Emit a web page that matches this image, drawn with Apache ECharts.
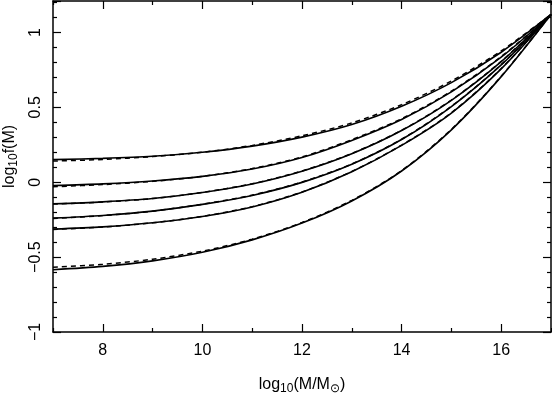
<!DOCTYPE html>
<html>
<head>
<meta charset="utf-8">
<script src="https://cdn.jsdelivr.net/npm/echarts@6/dist/echarts.min.js"></script>
<style>
  html, body { margin: 0; padding: 0; background: #fff; }
  #chart { width: 552px; height: 398px; }
</style>
</head>
<body>
<div id="chart"></div>
<script>
// log10(M/Msun) sample points
var logM = [7, 8, 9, 10, 11, 12, 13, 14, 15, 16, 17];

// solid curves, top to bottom
var solid1 = [0.151, 0.159, 0.173, 0.200, 0.241, 0.301, 0.385, 0.507, 0.665, 0.868, 1.120];
var solid2 = [-0.022, -0.011, 0.008, 0.039, 0.088, 0.165, 0.279, 0.419, 0.603, 0.835, 1.120];
var solid3 = [-0.144, -0.131, -0.109, -0.069, -0.012, 0.073, 0.190, 0.345, 0.547, 0.805, 1.120];
var solid4 = [-0.240, -0.222, -0.193, -0.148, -0.088, -0.001, 0.120, 0.285, 0.505, 0.783, 1.120];
var solid5 = [-0.313, -0.298, -0.271, -0.229, -0.165, -0.067, 0.070, 0.246, 0.462, 0.757, 1.120];
var solid6 = [-0.584, -0.562, -0.525, -0.468, -0.385, -0.273, -0.125, 0.075, 0.350, 0.705, 1.120];

// dashed curves (fits)
var dash1 = [0.141, 0.152, 0.171, 0.200, 0.246, 0.310, 0.396, 0.518, 0.676, 0.877, 1.120];
var dash2 = [-0.030, -0.016, 0.006, 0.039, 0.091, 0.169, 0.284, 0.424, 0.608, 0.839, 1.120];
var dash3 = [-0.146, -0.132, -0.109, -0.068, -0.010, 0.075, 0.192, 0.347, 0.549, 0.807, 1.120];
var dash4 = [-0.242, -0.223, -0.193, -0.147, -0.086, 0.001, 0.122, 0.287, 0.507, 0.785, 1.120];
var dash5 = [-0.315, -0.299, -0.271, -0.228, -0.163, -0.065, 0.072, 0.248, 0.464, 0.759, 1.120];
var dash6 = [-0.567, -0.548, -0.514, -0.460, -0.380, -0.269, -0.121, 0.078, 0.353, 0.707, 1.120];

var xMajor = [8, 10, 12, 14, 16];
var xMinor = [7, 9, 11, 13, 15, 17];
var yTicks = [-1, -0.5, 0, 0.5, 1];

function pairs(ys) {
  return logM.map(function (x, i) { return [x, ys[i]]; });
}

var font = "'Liberation Sans', Arial, sans-serif";
var chart = echarts.init(document.getElementById('chart'));

function line(data, dashed) {
  return {
    type: 'line',
    data: pairs(data),
    smooth: 0.3,
    symbol: 'none',
    silent: true,
    z: dashed ? 3 : 4,
    lineStyle: {
      color: '#000',
      width: dashed ? 1.5 : 1.6,
      type: dashed ? [5, 4] : 'solid'
    }
  };
}

var tickStyle = { color: '#000', width: 1.2 };

// x axis: the major ticks sit on even numbers, so they are set by hand
function xAxisAt(pos, ticks, len, withLine, labels) {
  return {
    type: 'value', min: 7, max: 17, interval: 1, position: pos,
    axisLine: { show: withLine, onZero: false, lineStyle: { color: '#000', width: 1.5 } },
    axisTick: { show: true, inside: true, length: len, customValues: ticks, lineStyle: tickStyle },
    axisLabel: labels ? {
      show: true, margin: 11, color: '#000', fontFamily: font, fontSize: 16,
      customValues: xMajor
    } : { show: false },
    splitLine: { show: false }
  };
}

var baseY = {
  type: 'value', min: -1, max: 1.21, interval: 0.5,
  axisLine: { show: true, onZero: false, lineStyle: { color: '#000', width: 1.5 } },
  axisTick: { show: true, inside: true, length: 8, lineStyle: tickStyle },
  minorTick: { show: true, splitNumber: 5, length: 4, lineStyle: tickStyle },
  splitLine: { show: false }
};

var bottomX = xAxisAt('bottom', xMajor, 8, true, true);
bottomX.name = '{a|log}{s|10}{a|(M/M}{s|\u2299}{a|)}';
bottomX.nameLocation = 'middle';
bottomX.nameGap = 42;
bottomX.nameTextStyle = {
  rich: {
    a: { fontFamily: font, fontSize: 16, color: '#000' },
    s: { fontFamily: font, fontSize: 12, color: '#000', verticalAlign: 'bottom', padding: [9, 0, 0, 0] }
  }
};

chart.setOption({
  animation: false,
  backgroundColor: '#fff',
  grid: { left: 53, right: 1, top: 1, bottom: 66, outerBoundsMode: 'none' },
  xAxis: [
    bottomX,
    xAxisAt('bottom', xMinor, 4, false, false),
    xAxisAt('top', xMajor, 8, true, false),
    xAxisAt('top', xMinor, 4, false, false)
  ],
  yAxis: [
    Object.assign({}, baseY, {
      position: 'left',
      name: '{a|log}{s|10}{a|f(M)}',
      nameLocation: 'middle',
      nameGap: 32,
      nameRotate: 90,
      nameTextStyle: {
        padding: [0, 0, 0, 20],
        rich: {
          a: { fontFamily: font, fontSize: 16, color: '#000' },
          s: { fontFamily: font, fontSize: 12, color: '#000', verticalAlign: 'bottom', padding: [9, 0, 0, 0] }
        }
      },
      axisLabel: {
        show: true, rotate: 90, margin: 9, color: '#000', fontFamily: font, fontSize: 16,
        showMaxLabel: false,
        formatter: function (v) {
          var r = Math.round(v * 10) / 10;
          if (yTicks.indexOf(r) < 0) return '';
          return r < 0 ? '\u2212' + String(-r) : String(r);
        }
      }
    }),
    Object.assign({}, baseY, { position: 'right', axisLabel: { show: false } })
  ],
  series: [
    line(dash1, true), line(dash2, true), line(dash3, true),
    line(dash4, true), line(dash5, true), line(dash6, true),
    line(solid1, false), line(solid2, false), line(solid3, false),
    line(solid4, false), line(solid5, false), line(solid6, false)
  ]
});
</script>
</body>
</html>
